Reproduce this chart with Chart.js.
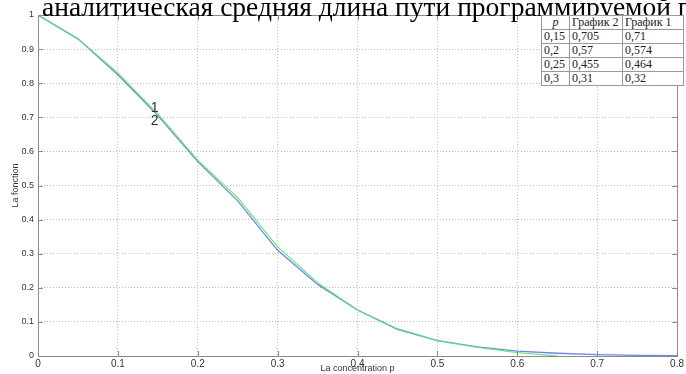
<!DOCTYPE html>
<html>
<head>
<meta charset="utf-8">
<script src="https://cdn.jsdelivr.net/npm/chart.js@4/dist/chart.umd.min.js"></script>
<style>
  html, body { margin:0; padding:0; background:#fff; overflow:hidden; }
  #wrap { position:relative; width:686px; height:374px; }
  #title {
    position:absolute; left:42px; top:-9px; white-space:nowrap;
    font-family:"Liberation Serif","DejaVu Serif",serif; font-size:27.5px; color:#000;
  }
  #tbl {
    position:absolute; left:541px; top:15px; border-collapse:collapse; background:#fff;
    font-family:"Liberation Serif","DejaVu Serif",serif; font-size:12px; color:#222;
  }
  #tbl td { border:1px solid #999; padding:0 2px; height:13px; line-height:13px; }
</style>
</head>
<body>
<div id="wrap">
  <canvas id="c" width="686" height="374"></canvas>
  <div id="title">аналитическая средняя длина пути программируемой п</div>
  <table id="tbl"></table>
</div>
<script>
// данные кривых (читаны с картинки)
const pValues = [0, 0.05, 0.1, 0.15, 0.2, 0.25, 0.3, 0.35, 0.4, 0.45, 0.5, 0.55, 0.6, 0.65, 0.7, 0.75, 0.8];
const graph1 = [1, 0.93, 0.83, 0.71, 0.574, 0.464, 0.32, 0.215, 0.135, 0.08, 0.045, 0.025, 0.01, 0];
const graph2 = [1, 0.93, 0.825, 0.705, 0.57, 0.455, 0.31, 0.21, 0.135, 0.078, 0.045, 0.027, 0.014, 0.008, 0.004, 0.002, 0.001];
const xTicks = [0, 0.1, 0.2, 0.3, 0.4, 0.5, 0.6, 0.7, 0.8];
const yTicks = [0, 0.1, 0.2, 0.3, 0.4, 0.5, 0.6, 0.7, 0.8, 0.9, 1];

// таблица в углу
const tableHead = ['p', 'График 2', 'График 1'];
const tableP = ['0,15', '0,2', '0,25', '0,3'];
const tableG2 = ['0,705', '0,57', '0,455', '0,31'];
const tableG1 = ['0,71', '0,574', '0,464', '0,32'];

const tbl = document.getElementById('tbl');
let html = '<tr><td style="width:23px;text-align:center"><i>' + tableHead[0] + '</i></td><td style="width:48px">' +
  tableHead[1] + '</td><td style="width:56px">' + tableHead[2] + '</td></tr>';
tableP.forEach((p, i) => {
  html += `<tr><td>${p}</td><td>${tableG2[i]}</td><td>${tableG1[i]}</td></tr>`;
});
tbl.innerHTML = html;

const toPts = arr => arr.map((v, i) => ({ x: pValues[i], y: v }));

// рамка, внутренние риски и подписи 1 / 2
const framePlugin = {
  id: 'frame',
  afterDraw(chart) {
    const { ctx, chartArea: a, scales } = chart;
    ctx.save();
    ctx.strokeStyle = '#8a8a8a';
    ctx.lineWidth = 1;
    ctx.strokeRect(a.left + 0.5, a.top + 0.5, a.right - a.left, a.bottom - a.top);
    ctx.beginPath();
    xTicks.forEach(t => {
      const x = Math.round(scales.x.getPixelForValue(t)) + 0.5;
      ctx.moveTo(x, a.bottom); ctx.lineTo(x, a.bottom - 5);
      ctx.moveTo(x, a.top); ctx.lineTo(x, a.top + 5);
    });
    yTicks.forEach(t => {
      const y = Math.round(scales.y.getPixelForValue(t)) + 0.5;
      ctx.moveTo(a.left, y); ctx.lineTo(a.left + 5, y);
      ctx.moveTo(a.right, y); ctx.lineTo(a.right - 5, y);
    });
    ctx.stroke();
    ctx.fillStyle = '#333';
    ctx.font = '14px "Liberation Sans", Arial, sans-serif';
    ctx.textAlign = 'center';
    ctx.textBaseline = 'middle';
    ctx.fillText('1', scales.x.getPixelForValue(0.146), scales.y.getPixelForValue(0.728));
    ctx.fillText('2', scales.x.getPixelForValue(0.146), scales.y.getPixelForValue(0.688));
    ctx.restore();
  }
};

new Chart(document.getElementById('c'), {
  type: 'line',
  data: {
    datasets: [
      { label: '1', data: toPts(graph1), borderColor: 'rgba(90,230,110,0.85)', borderWidth: 1.3, pointRadius: 0, tension: 0, fill: false },
      { label: '2', data: toPts(graph2), borderColor: 'rgba(70,90,225,0.75)', borderWidth: 1.3, pointRadius: 0, tension: 0, fill: false }
    ]
  },
  options: {
    responsive: false,
    animation: false,
    layout: { padding: { left: 10, right: 5, top: 15, bottom: 0 } },
    plugins: { legend: { display: false }, tooltip: { enabled: false } },
    scales: {
      x: {
        type: 'linear', min: 0, max: 0.8,
        afterBuildTicks: s => { s.ticks = xTicks.map(v => ({ value: v })); },
        afterFit: s => { s.height = 18; },
        border: { display: false, dash: [1, 2] },
        grid: { color: '#bdbdbd', drawTicks: false, lineWidth: 1 },
        ticks: { padding: 2, maxRotation: 0, color: '#333', font: { family: 'Liberation Sans', size: 10 },
          callback: v => String(v) },
        title: { display: true, text: 'La concentration p', color: '#333', padding: { top: -2, bottom: 0 },
          font: { family: 'Liberation Sans', size: 9 } }
      },
      y: {
        type: 'linear', min: 0, max: 1,
        afterBuildTicks: s => { s.ticks = yTicks.map(v => ({ value: v })); },
        afterFit: s => { s.width = 28; },
        border: { display: false, dash: [1, 2] },
        grid: { color: '#bdbdbd', drawTicks: false, lineWidth: 1 },
        ticks: { padding: 4, color: '#333', font: { family: 'Liberation Sans', size: 9 },
          callback: v => String(v) },
        title: { display: true, text: 'La fonction', color: '#333', padding: 0,
          font: { family: 'Liberation Sans', size: 9 } }
      }
    }
  },
  plugins: [framePlugin]
});
</script>
</body>
</html>
